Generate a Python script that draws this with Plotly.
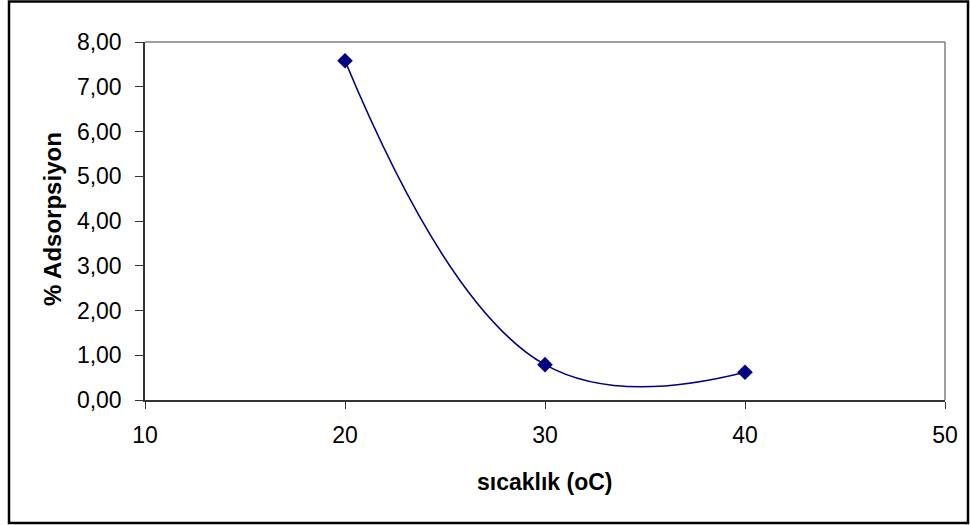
import plotly.graph_objects as go

temps = [20, 30, 40]
adsorption = [7.58, 0.79, 0.62]
x_ticks = [10, 20, 30, 40, 50]
y_ticks = [0, 1, 2, 3, 4, 5, 6, 7, 8]

W, H = 970, 525
L, R, T, B = 145, 25, 42, 125
pw, ph = W - L - R, H - T - B

def px_x(p):
    return (p - L) / pw

def px_y(p):
    return (H - B - p) / ph

font = "Liberation Sans, Arial, sans-serif"

fig = go.Figure()
fig.add_trace(go.Scatter(
    x=temps, y=adsorption, mode="lines+markers",
    line=dict(color="#000080", width=1.6, shape="spline", smoothing=1.2),
    marker=dict(symbol="diamond", size=12, color="#000080"),
    showlegend=False,
))

fig.update_layout(
    width=W, height=H,
    margin=dict(l=L, r=R, t=T, b=B),
    paper_bgcolor="white", plot_bgcolor="white",
    separators=",.",
    font=dict(family=font, size=23, color="black"),
    xaxis=dict(range=[10, 50], tickvals=x_ticks, showgrid=False, zeroline=False,
               showline=True, linecolor="#333333", linewidth=1.5,
               ticks="outside", ticklen=7, tickcolor="#333333", tickwidth=1,
               ticklabelstandoff=7, tickfont=dict(size=23)),
    yaxis=dict(range=[0, 8], tickvals=y_ticks, tickformat=".2f", showgrid=False,
               zeroline=False, showline=True, linecolor="#333333", linewidth=1.5,
               ticks="outside", ticklen=8, tickcolor="#333333", tickwidth=1,
               ticklabelstandoff=9, tickfont=dict(size=23)),
    shapes=[
        dict(type="line", xref="paper", yref="paper", x0=0, x1=1, y0=1, y1=1,
             line=dict(color="#808080", width=1.5)),
        dict(type="line", xref="paper", yref="paper", x0=1, x1=1, y0=0, y1=1,
             line=dict(color="#808080", width=1.5)),
        dict(type="rect", xref="paper", yref="paper",
             x0=px_x(9), x1=px_x(968), y0=px_y(523), y1=px_y(1.5),
             line=dict(color="black", width=2.5)),
    ],
    annotations=[
        dict(text="<b>sıcaklık (oC)</b>", xref="paper", yref="paper",
             x=px_x(545), y=px_y(482), showarrow=False,
             font=dict(size=23), xanchor="center", yanchor="middle"),
        dict(text="<b>% Adsorpsiyon</b>", xref="paper", yref="paper",
             x=px_x(53), y=px_y(219), showarrow=False, textangle=-90,
             font=dict(size=24), xanchor="center", yanchor="middle"),
    ],
)

fig.write_html("out.html")
